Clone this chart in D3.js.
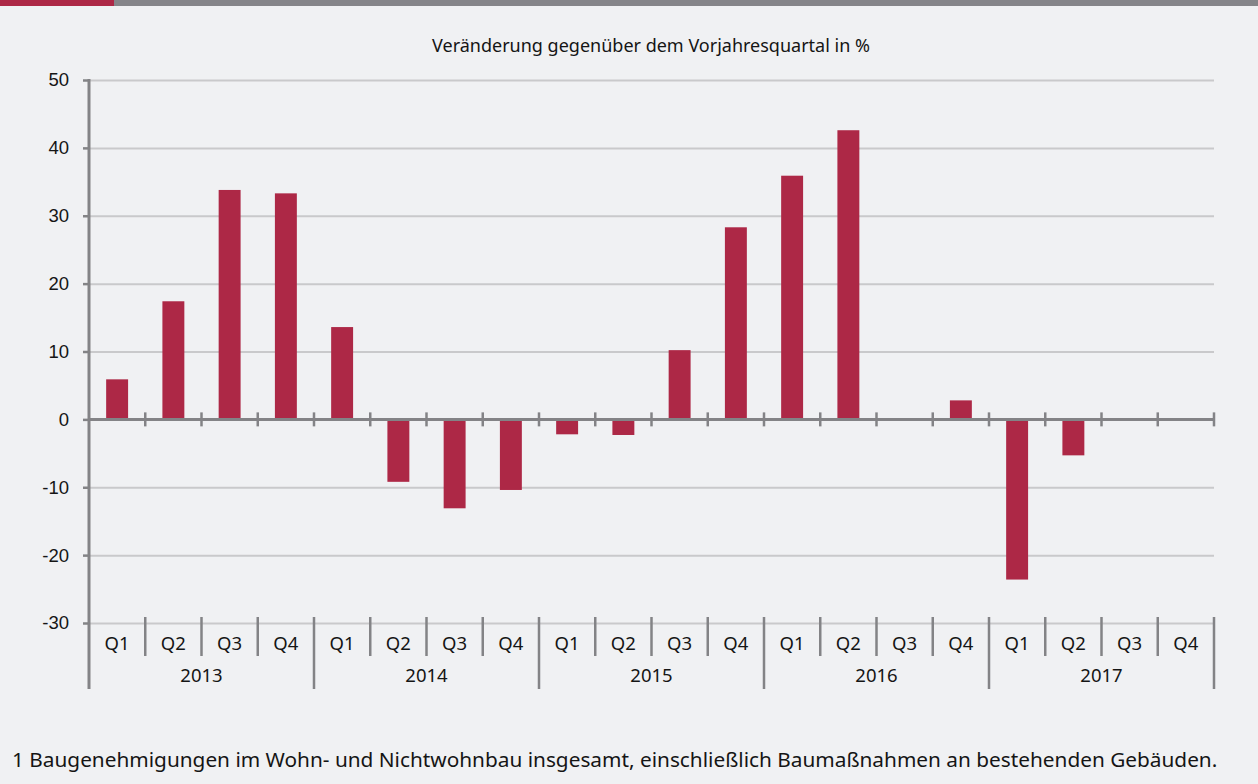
<!DOCTYPE html>
<html>
<head>
<meta charset="utf-8">
<script src="https://cdn.jsdelivr.net/npm/d3@7"></script>
<style>
  body { margin: 0; background: #f0f1f3; }
  svg { display: block; font-family: 'Noto Sans', 'Open Sans', sans-serif; }
</style>
</head>
<body>
<div class="chart"></div>
<script>
// data
const years = ['2013', '2014', '2015', '2016', '2017'];
const quarters = ['Q1', 'Q2', 'Q3', 'Q4'];
const values = [
  5.9, 17.4, 33.8, 33.3,
  13.6, -9.2, -13.1, -10.4,
  -2.2, -2.3, 10.2, 28.3,
  35.9, 42.6, null, 2.8,
  -23.6, -5.3, null, null
];
const yTicks = [50, 40, 30, 20, 10, 0, -10, -20, -30];
const title = 'Veränderung gegenüber dem Vorjahresquartal in %';
const footnote = '1 Baugenehmigungen im Wohn- und Nichtwohnbau insgesamt, einschließlich Baumaßnahmen an bestehenden Gebäuden.';

const W = 1258, H = 784;
const margin = { left: 89, right: 1214, top: 80, bottom: 623 };

const svg = d3.select('.chart').append('svg')
  .attr('width', W)
  .attr('height', H);

svg.append('rect').attr('width', W).attr('height', H).attr('fill', '#f0f1f3');
svg.append('rect').attr('x', 0).attr('y', 0).attr('width', W).attr('height', 6).attr('fill', '#858589');
svg.append('rect').attr('x', 0).attr('y', 0).attr('width', 114).attr('height', 6).attr('fill', '#ad2846');

const cats = [];
years.forEach(yr => quarters.forEach(q => cats.push(yr + ' ' + q)));
const data = cats.map((c, i) => ({ key: c, year: c.split(' ')[0], q: c.split(' ')[1], value: values[i] }));

const x = d3.scaleBand()
  .domain(cats)
  .range([margin.left, margin.right])
  .paddingInner(0.61)
  .paddingOuter(0.305);

const y = d3.scaleLinear()
  .domain([-30, 50])
  .range([margin.bottom, margin.top]);

const step = x.step();
const catStart = d => x(d) - x.paddingOuter() * step;

// gridlines
svg.append('g')
  .attr('class', 'grid')
  .attr('transform', `translate(${margin.left},0)`)
  .call(d3.axisLeft(y).tickValues(yTicks).tickSize(-(margin.right - margin.left)).tickFormat(''))
  .call(g => g.select('.domain').remove())
  .call(g => g.selectAll('line').attr('stroke', '#c9c9cb').attr('stroke-width', 2));

// bars
svg.append('g').selectAll('rect')
  .data(data.filter(d => d.value != null))
  .enter().append('rect')
  .attr('x', d => x(d.key))
  .attr('width', x.bandwidth())
  .attr('y', d => y(Math.max(0, d.value)))
  .attr('height', d => Math.abs(y(d.value) - y(0)))
  .attr('fill', '#ad2846');

// y axis (plain hyphen for negatives, like the original)
svg.append('g')
  .attr('class', 'axis axis--y')
  .attr('transform', `translate(${margin.left},0)`)
  .call(d3.axisLeft(y).tickValues(yTicks).tickSize(6).tickPadding(14).tickFormat(d => String(d)))
  .call(g => g.select('.domain').remove())
  .call(g => g.selectAll('line').attr('stroke', '#838386').attr('stroke-width', 2.5))
  .call(g => g.selectAll('text').attr('fill', '#151515').attr('font-size', 18.5));

svg.append('line')
  .attr('x1', margin.left).attr('x2', margin.left)
  .attr('y1', y(50) - 1).attr('y2', 689)
  .attr('stroke', '#838386').attr('stroke-width', 3);

// zero line with category ticks
svg.append('line')
  .attr('x1', margin.left).attr('x2', margin.right)
  .attr('y1', y(0)).attr('y2', y(0))
  .attr('stroke', '#838386').attr('stroke-width', 3);

svg.append('g').selectAll('line')
  .data(cats)
  .enter().append('line')
  .attr('x1', d => catStart(d) + step)
  .attr('x2', d => catStart(d) + step)
  .attr('y1', y(0) - 7).attr('y2', y(0) + 7)
  .attr('stroke', '#838386').attr('stroke-width', 2.5);

// category axis at bottom
svg.append('g').selectAll('line')
  .data(data)
  .enter().append('line')
  .attr('x1', d => catStart(d.key) + step)
  .attr('x2', d => catStart(d.key) + step)
  .attr('y1', margin.bottom - 6)
  .attr('y2', d => d.q === 'Q4' ? 689 : 656)
  .attr('stroke', '#838386').attr('stroke-width', 2.5);

svg.append('g').selectAll('text')
  .data(data)
  .enter().append('text')
  .attr('x', d => x(d.key) + x.bandwidth() / 2)
  .attr('y', 650)
  .attr('text-anchor', 'middle')
  .attr('font-size', 18.5)
  .attr('fill', '#151515')
  .text(d => d.q);

svg.append('g').selectAll('text')
  .data(years)
  .enter().append('text')
  .attr('x', d => catStart(d + ' Q1') + step * 2)
  .attr('y', 682)
  .attr('text-anchor', 'middle')
  .attr('font-size', 18.5)
  .attr('fill', '#151515')
  .text(d => d);

// title and footnote
svg.append('text')
  .attr('x', 651).attr('y', 52)
  .attr('text-anchor', 'middle')
  .attr('font-size', 18)
  .attr('fill', '#151515')
  .text(title);

svg.append('text')
  .attr('x', 12).attr('y', 767)
  .attr('font-size', 20.8)
  .attr('fill', '#151515')
  .text(footnote);
</script>
</body>
</html>
